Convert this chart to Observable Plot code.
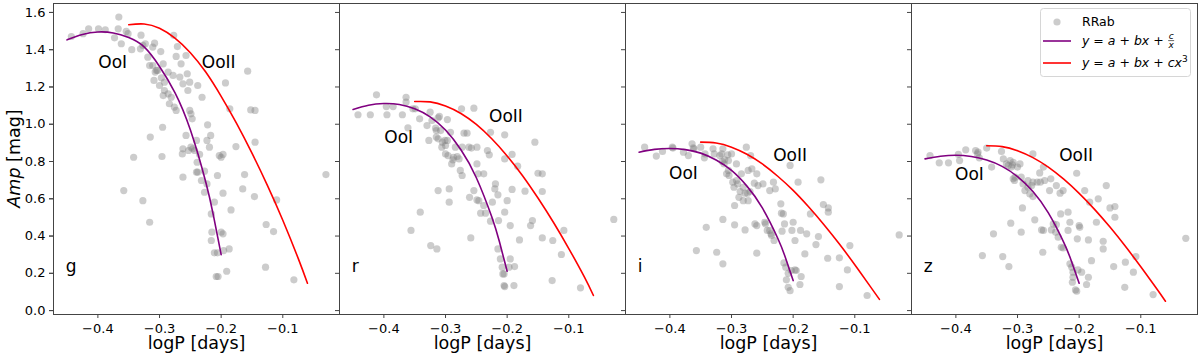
<!DOCTYPE html>
<html><head><meta charset="utf-8">
<script src="https://cdn.jsdelivr.net/npm/d3@7"></script>
<script src="https://cdn.jsdelivr.net/npm/@observablehq/plot@0.6"></script>
<style>body{margin:0;background:#fff}</style>
</head><body><div id="chart"></div>
<script>
const bands = ["g", "r", "i", "z"];
const xTicks = [-0.4, -0.3, -0.2, -0.1];
const yTicks = [0, 0.2, 0.4, 0.6, 0.8, 1.0, 1.2, 1.4, 1.6];

const logP_g = [-0.366,-0.415,-0.399,-0.388,-0.424,-0.443,-0.367,-0.373,-0.354,-0.351,
-0.362,-0.345,-0.330,-0.331,-0.327,-0.323,-0.308,-0.319,-0.311,-0.298,
-0.316,-0.311,-0.307,-0.305,-0.303,-0.309,-0.294,-0.297,-0.292,-0.300,
-0.286,-0.292,-0.294,-0.286,-0.281,-0.284,-0.276,-0.273,-0.277,-0.273,
-0.271,-0.265,-0.278,-0.267,-0.262,-0.255,-0.254,-0.251,-0.251,-0.249,
-0.247,-0.257,-0.238,-0.257,-0.231,-0.240,-0.249,-0.246,-0.243,-0.262,
-0.263,-0.262,-0.239,-0.240,-0.238,-0.227,-0.235,-0.232,-0.227,-0.223,
-0.222,-0.223,-0.219,-0.217,-0.216,-0.215,-0.216,-0.211,-0.206,-0.203,
-0.200,-0.197,-0.197,-0.211,-0.206,-0.200,-0.197,-0.196,-0.187,-0.191,
-0.208,-0.205,-0.193,-0.186,-0.184,-0.176,-0.162,-0.165,-0.157,-0.152,
-0.145,-0.145,-0.146,-0.127,-0.128,-0.115,-0.110,-0.082,-0.030,-0.295,
-0.296,-0.315,-0.342,-0.358,-0.327,-0.316,-0.253];
const amp_g = [1.575,1.512,1.512,1.507,1.486,1.471,1.512,1.464,1.498,1.486,
1.432,1.40,1.478,1.405,1.423,1.432,1.435,1.36,1.414,1.39,
1.315,1.315,1.28,1.289,1.289,1.235,1.324,1.249,1.226,1.208,
1.28,1.181,1.154,1.163,1.145,1.11,1.092,1.074,1.477,1.364,
1.417,1.324,1.262,1.253,1.217,1.271,1.181,1.226,1.074,1.056,
1.029,0.94,1.208,1.369,1.145,0.913,0.877,0.868,0.859,0.868,
0.841,0.716,0.796,0.743,0.743,0.748,0.838,0.698,0.635,0.68,
0.997,0.913,0.877,0.94,0.519,0.421,0.376,0.582,0.725,0.832,
0.823,0.838,0.63,0.31,0.31,0.421,0.412,0.322,0.331,0.211,
0.183,0.183,1.222,1.083,0.54,0.88,0.73,0.653,1.285,1.077,
1.074,0.904,0.612,0.462,0.233,0.424,0.594,0.165,0.73,0.984,
0.827,0.931,0.823,0.644,0.59,0.474,0.859];

const logP_r = [-0.412,-0.442,-0.422,-0.396,-0.395,-0.385,-0.370,-0.364,-0.364,-0.361,
-0.353,-0.349,-0.342,-0.325,-0.330,-0.327,-0.316,-0.315,-0.312,-0.310,
-0.315,-0.312,-0.305,-0.301,-0.297,-0.306,-0.300,-0.308,-0.300,-0.296,
-0.290,-0.287,-0.284,-0.281,-0.278,-0.276,-0.273,-0.273,-0.270,-0.274,
-0.265,-0.262,-0.258,-0.254,-0.249,-0.247,-0.238,-0.249,-0.232,-0.229,
-0.219,-0.220,-0.227,-0.215,-0.204,-0.204,-0.192,-0.183,-0.171,-0.155,
-0.150,-0.143,-0.143,-0.192,-0.254,-0.249,-0.246,-0.238,-0.243,-0.235,
-0.227,-0.224,-0.214,-0.204,-0.200,-0.195,-0.180,-0.159,-0.162,-0.143,
-0.126,-0.127,-0.108,-0.112,-0.081,-0.027,-0.259,-0.261,-0.294,-0.294,
-0.312,-0.341,-0.356,-0.324,-0.314,-0.215,-0.211,-0.208,-0.205,-0.195,
-0.197,-0.188,-0.205,-0.204,-0.189,-0.207,-0.292,-0.297,-0.322,-0.288];
const amp_r = [1.158,1.051,1.051,1.095,1.051,1.095,1.051,1.145,1.119,0.981,
1.083,1.083,1.029,1.065,0.993,0.913,0.979,0.966,1.034,1.042,
0.931,0.922,0.904,0.913,1.025,0.877,0.841,0.966,0.886,0.832,
0.787,0.823,0.877,0.827,0.814,0.752,0.725,0.877,0.952,1.083,
0.952,0.877,0.872,1.086,0.787,0.734,0.734,0.877,0.859,0.836,
0.68,0.653,0.957,0.621,0.943,0.814,0.838,0.775,0.641,0.904,
0.737,0.734,0.639,0.65,0.644,0.594,0.59,0.564,0.523,0.523,
0.48,0.582,0.483,0.528,0.59,0.456,0.379,0.483,0.456,0.39,
0.376,0.161,0.43,0.301,0.122,0.489,0.39,0.608,0.653,0.582,
0.644,0.528,0.43,0.349,0.331,0.331,0.277,0.233,0.197,0.277,
0.233,0.236,0.134,0.129,0.134,0.197,0.957,0.913,1.02,0.809];

const logP_i = [-0.441,-0.422,-0.412,-0.396,-0.395,-0.378,-0.370,-0.364,-0.362,-0.361,
-0.350,-0.344,-0.343,-0.330,-0.328,-0.319,-0.316,-0.315,-0.311,-0.306,
-0.305,-0.314,-0.312,-0.300,-0.292,-0.276,-0.269,-0.267,-0.273,-0.308,
-0.304,-0.305,-0.298,-0.296,-0.290,-0.292,-0.286,-0.278,-0.281,-0.274,
-0.270,-0.288,-0.273,-0.263,-0.259,-0.249,-0.232,-0.229,-0.220,-0.238,
-0.205,-0.192,-0.155,-0.151,-0.143,-0.143,-0.172,-0.219,-0.216,-0.214,
-0.200,-0.202,-0.295,-0.314,-0.295,-0.341,-0.262,-0.259,-0.246,-0.245,
-0.242,-0.238,-0.236,-0.235,-0.231,-0.218,-0.197,-0.188,-0.178,-0.159,
-0.163,-0.181,-0.125,-0.144,-0.108,-0.112,-0.357,-0.324,-0.314,-0.259,
-0.215,-0.212,-0.208,-0.203,-0.197,-0.195,-0.187,-0.189,-0.211,-0.208,
-0.205,-0.125,-0.080,-0.028,-0.278,-0.284,-0.257,-0.281];
const amp_i = [0.877,0.829,0.854,0.877,0.872,0.85,0.832,0.895,0.873,0.868,
0.877,0.82,0.841,0.868,0.841,0.832,0.841,0.80,0.809,0.836,
0.805,0.868,0.787,0.841,0.787,0.877,0.832,0.761,0.752,0.734,
0.725,0.752,0.689,0.662,0.68,0.698,0.639,0.63,0.662,0.63,
0.639,0.608,0.59,0.684,0.734,0.68,0.689,0.653,0.573,0.644,
0.779,0.689,0.702,0.569,0.551,0.528,0.519,0.523,0.519,0.465,
0.474,0.43,0.564,0.489,0.46,0.447,0.465,0.456,0.474,0.465,
0.43,0.43,0.412,0.403,0.376,0.426,0.376,0.43,0.412,0.397,
0.354,0.304,0.283,0.281,0.349,0.218,0.322,0.313,0.251,0.308,
0.256,0.233,0.20,0.215,0.218,0.215,0.183,0.14,0.165,0.125,
0.107,0.129,0.081,0.406,0.433,0.734,0.671,0.59];

const logP_z = [-0.442,-0.427,-0.412,-0.396,-0.394,-0.384,-0.368,-0.365,-0.364,-0.362,
-0.350,-0.342,-0.326,-0.323,-0.318,-0.315,-0.312,-0.310,-0.308,-0.307,
-0.300,-0.296,-0.307,-0.305,-0.304,-0.291,-0.288,-0.283,-0.277,-0.280,
-0.275,-0.275,-0.268,-0.264,-0.263,-0.258,-0.275,-0.256,-0.248,-0.246,
-0.237,-0.231,-0.226,-0.204,-0.191,-0.183,-0.169,-0.156,-0.150,-0.142,
-0.142,-0.172,-0.292,-0.272,-0.311,-0.294,-0.339,-0.261,-0.258,-0.245,
-0.242,-0.237,-0.238,-0.234,-0.229,-0.226,-0.218,-0.218,-0.215,-0.200,
-0.199,-0.203,-0.185,-0.161,-0.161,-0.180,-0.125,-0.144,-0.108,-0.112,
-0.357,-0.324,-0.314,-0.259,-0.215,-0.212,-0.210,-0.202,-0.196,-0.185,
-0.210,-0.211,-0.206,-0.204,-0.188,-0.126,-0.080,-0.027,-0.294,-0.283,-0.230];
const amp_z = [0.832,0.793,0.793,0.838,0.805,0.863,0.859,0.841,0.85,0.82,
0.872,0.77,0.854,0.814,0.787,0.779,0.805,0.77,0.782,0.796,
0.77,0.787,0.707,0.698,0.716,0.68,0.644,0.662,0.671,0.626,
0.612,0.689,0.689,0.739,0.689,0.77,0.841,0.698,0.644,0.707,
0.671,0.63,0.644,0.737,0.644,0.582,0.60,0.671,0.551,0.558,
0.501,0.474,0.551,0.487,0.469,0.421,0.412,0.433,0.43,0.433,
0.465,0.462,0.421,0.394,0.34,0.336,0.43,0.528,0.474,0.456,
0.447,0.385,0.379,0.372,0.331,0.268,0.26,0.236,0.29,0.206,
0.295,0.29,0.236,0.313,0.251,0.233,0.206,0.218,0.206,0.179,
0.179,0.152,0.111,0.104,0.14,0.125,0.086,0.388,0.716,0.698,0.519];

// fitted curves
const fitX_OoI = [-0.45,-0.425,-0.40,-0.375,-0.35,-0.325,-0.30,-0.275,-0.25,-0.225,-0.2125,-0.20];
const OoI_g = [1.453,1.482,1.495,1.490,1.465,1.415,1.310,1.170,0.970,0.690,0.510,0.300];
const OoI_r = [1.079,1.102,1.111,1.106,1.083,1.040,0.969,0.863,0.713,0.503,0.369,0.211];
const OoI_i = [0.850,0.865,0.870,0.864,0.845,0.808,0.752,0.668,0.551,0.388,0.284,0.161];
const OoI_z = [0.814,0.828,0.834,0.827,0.808,0.774,0.719,0.639,0.524,0.366,0.265,0.147];
const fitX_OoII = [-0.35,-0.325,-0.30,-0.275,-0.25,-0.225,-0.20,-0.175,-0.15,-0.125,-0.10,-0.075,-0.06];
const OoII_g = [1.534,1.538,1.515,1.462,1.384,1.280,1.150,1.005,0.845,0.672,0.485,0.280,0.147];
const OoII_r = [1.122,1.120,1.098,1.058,0.999,0.922,0.830,0.724,0.604,0.474,0.333,0.182,0.081];
const OoII_i = [0.904,0.899,0.877,0.839,0.787,0.721,0.645,0.557,0.461,0.357,0.246,0.130,0.060];
const OoII_z = [0.885,0.880,0.858,0.821,0.770,0.705,0.629,0.543,0.448,0.345,0.235,0.121,0.050];

const logP = {g: logP_g, r: logP_r, i: logP_i, z: logP_z};
const amp = {g: amp_g, r: amp_r, i: amp_i, z: amp_z};
const OoI = {g: OoI_g, r: OoI_r, i: OoI_i, z: OoI_z};
const OoII = {g: OoII_g, r: OoII_r, i: OoII_i, z: OoII_z};

const points = [];
bands.forEach(b => {
  const n = Math.min(logP[b].length, amp[b].length);
  for (let k = 0; k < n; k++) points.push({band: b, logP: logP[b][k], amp: amp[b][k]});
});
const fitI = [], fitII = [];
bands.forEach(b => {
  fitX_OoI.forEach((x, k) => fitI.push({band: b, logP: x, amp: OoI[b][k]}));
  fitX_OoII.forEach((x, k) => fitII.push({band: b, logP: x, amp: OoII[b][k]}));
});

const curveLabels = [
  {band: "g", text: "OoI", x: -0.376, y: 1.33}, {band: "g", text: "OoII", x: -0.204, y: 1.33},
  {band: "r", text: "OoI", x: -0.376, y: 0.93}, {band: "r", text: "OoII", x: -0.202, y: 1.04},
  {band: "i", text: "OoI", x: -0.378, y: 0.735}, {band: "i", text: "OoII", x: -0.205, y: 0.83},
  {band: "z", text: "OoI", x: -0.378, y: 0.73}, {band: "z", text: "OoII", x: -0.205, y: 0.83}
];

const svg = Plot.plot({
  width: 1200, height: 357,
  marginLeft: 52, marginRight: 2, marginTop: 3, marginBottom: 43,
  style: {fontFamily: "'DejaVu Sans', sans-serif", fontSize: "13px", background: "#fff", color: "#222"},
  fx: {domain: bands, padding: 0, axis: null, label: null},
  x: {domain: [-0.472, -0.008]},
  y: {domain: [-0.021, 1.648]},
  marks: [
    Plot.dot(points, {x: "logP", y: "amp", fx: "band", r: 3.6, fill: "#808080", fillOpacity: 0.4}),
    Plot.line(fitI, {x: "logP", y: "amp", fx: "band", stroke: "#800080", strokeWidth: 1.6, curve: "natural"}),
    Plot.line(fitII, {x: "logP", y: "amp", fx: "band", stroke: "#ff0000", strokeWidth: 1.6, curve: "natural"}),
    Plot.text(curveLabels, {x: "x", y: "y", fx: "band", text: "text", fontSize: 17, fill: "#000"}),
    Plot.text(bands, {fx: d => d, x: () => -0.452, y: () => 0.235, text: d => d, textAnchor: "start", fontSize: 17, fill: "#000"}),
    Plot.frame({stroke: "#444", strokeWidth: 1}),
    Plot.axisX({ticks: xTicks, tickFormat: ".1f", tickSize: 4, tickPadding: 5, fontSize: 13, label: null, stroke: "#444", fill: "#000"}),
    Plot.axisY({ticks: yTicks, tickFormat: ".1f", tickSize: 4, tickPadding: 4, fontSize: 13, label: null, stroke: "#444", fill: "#000"}),
    Plot.axisY({ticks: yTicks, tickFormat: () => "", tickSize: 4, label: null, stroke: "#444", facetAnchor: null}),
    Plot.text(["logP [days]"], {frameAnchor: "bottom", lineAnchor: "middle", dy: 28.5, text: d => d, fontSize: 17.5, fill: "#000"})
  ]
});
document.getElementById("chart").append(svg);

const s = d3.select(svg);
const fam = "'DejaVu Sans', sans-serif";
// y axis label
const yl = s.append("text").attr("transform", "translate(14,158.5) rotate(-90)")
  .attr("text-anchor", "middle").attr("dy", "0.35em").attr("font-size", 17.5)
  .attr("font-family", fam).attr("fill", "#000");
yl.append("tspan").attr("font-style", "italic").text("Amp");
yl.append("tspan").text(" [mag]");

// legend
const lg = s.append("g").attr("font-family", fam).attr("fill", "#000").attr("text-anchor", "start");
lg.append("rect").attr("x", 1040.5).attr("y", 8.5).attr("width", 150).attr("height", 68).attr("rx", 3)
  .attr("fill", "#fff").attr("fill-opacity", 0.8).attr("stroke", "#d6d6d6");
lg.append("circle").attr("cx", 1057).attr("cy", 22).attr("r", 3.6).attr("fill", "#808080").attr("fill-opacity", 0.4);
lg.append("text").attr("x", 1082).attr("y", 22).attr("dy", "0.35em").attr("font-size", 12.5).attr("text-anchor", "start").text("RRab");
lg.append("line").attr("x1", 1043).attr("x2", 1071).attr("y1", 41).attr("y2", 41).attr("stroke", "#800080").attr("stroke-width", 1.6);
const t1 = lg.append("text").attr("x", 1082).attr("y", 41).attr("dy", "0.35em").attr("font-size", 12.5)
  .attr("text-anchor", "start").attr("font-style", "italic").text("y = a + bx + ");
const w1 = t1.node().getComputedTextLength();
const fxp = 1082 + w1 + 3.5;
lg.append("text").attr("x", fxp).attr("y", 38.5).attr("text-anchor", "middle").attr("font-size", 9).attr("font-style", "italic").text("c");
lg.append("line").attr("x1", fxp - 3).attr("x2", fxp + 3).attr("y1", 40.6).attr("y2", 40.6).attr("stroke", "#000").attr("stroke-width", 0.6);
lg.append("text").attr("x", fxp).attr("y", 47.6).attr("text-anchor", "middle").attr("font-size", 9).attr("font-style", "italic").text("x");
lg.append("line").attr("x1", 1043).attr("x2", 1071).attr("y1", 63).attr("y2", 63).attr("stroke", "#ff0000").attr("stroke-width", 1.6);
const t2 = lg.append("text").attr("x", 1082).attr("y", 63).attr("dy", "0.35em").attr("font-size", 12.5)
  .attr("text-anchor", "start").attr("font-style", "italic");
t2.append("tspan").text("y = a + bx + cx");
t2.append("tspan").attr("font-size", 9).attr("dy", "-0.6em").attr("font-style", "normal").text("3");
</script>
</body></html>
